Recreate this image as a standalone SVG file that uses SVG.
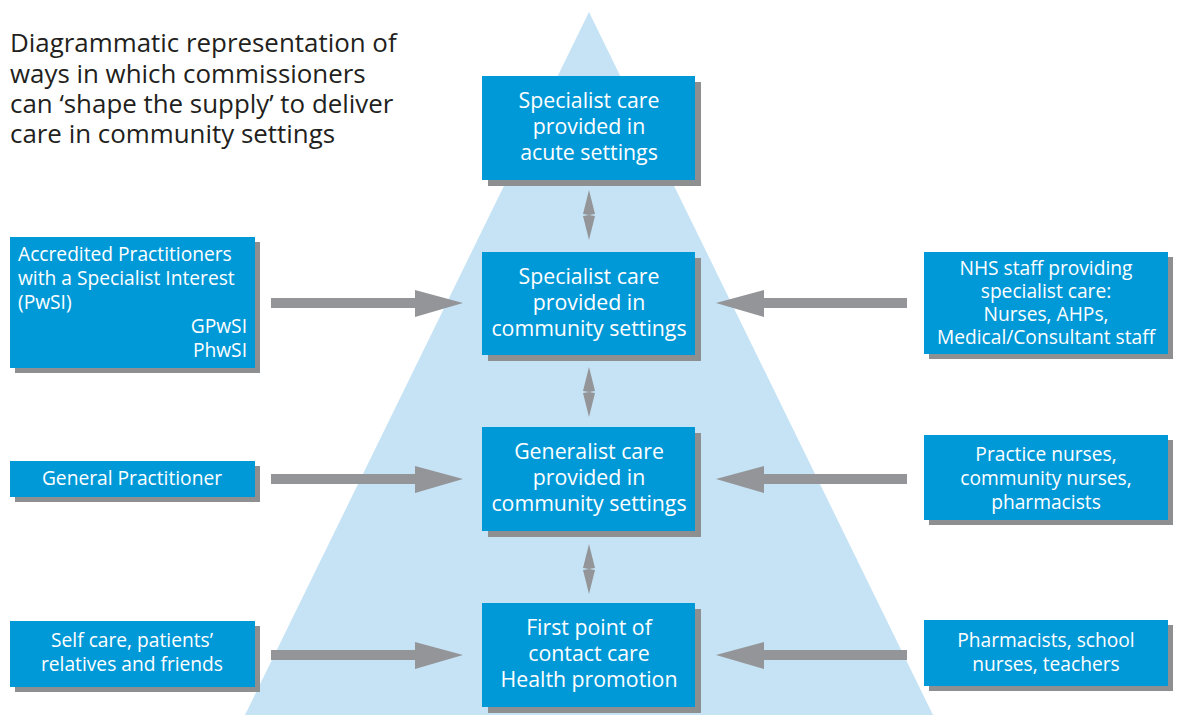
<svg xmlns="http://www.w3.org/2000/svg" width="1179" height="715" viewBox="0 0 1179 715">
<defs>
<style>
.box{fill:#0099d8}
.sh{fill:#8e8f91}
.t{font-family:"Open Sans","Noto Sans",sans-serif;fill:#fff;text-anchor:middle}
.c{font-size:21.3px}
.s{font-size:19.2px}
.title{font-family:"Open Sans","Noto Sans",sans-serif;font-size:25.9px;fill:#231f20}
.arr{fill:#939598}
</style>
</defs>
<rect width="1179" height="715" fill="#fff"/>
<polygon points="589,12 245,715 933,715" fill="#c5e3f5"/>
<g class="title">
<text x="10" y="52">Diagrammatic representation of</text>
<text x="10" y="83">ways in which commissioners</text>
<text x="10" y="113">can ‘shape the supply’ to deliver</text>
<text x="10" y="143">care in community settings</text>
</g>
<g id="connectors">
<polygon class="arr" points="271,298 415,298 415,290 463,303 415,317 415,308 271,308"/>
<polygon class="arr" points="271,474 415,474 415,466 463,479 415,493 415,484 271,484"/>
<polygon class="arr" points="271,650 415,650 415,642 463,655 415,669 415,660 271,660"/>
<polygon class="arr" points="907,298 764,298 764,290 716,303 764,317 764,308 907,308"/>
<polygon class="arr" points="907,474 764,474 764,466 716,479 764,493 764,484 907,484"/>
<polygon class="arr" points="907,650 764,650 764,642 716,655 764,669 764,660 907,660"/>
<polygon class="arr" points="589,190 595,214 589,215 595,216 589,240 583,216 589,215 583,214"/>
<polygon class="arr" points="589,367 595,391 589,392 595,393 589,417 583,393 589,392 583,391"/>
<polygon class="arr" points="589,544 595,568 589,569 595,570 589,594 583,570 589,569 583,568"/>
</g>
<g id="n-acute">
<rect class="sh" x="488" y="82" width="213" height="104"/>
<rect class="box" x="482" y="76" width="213" height="104"/>
<text class="t c" x="589" y="108">Specialist care</text>
<text class="t c" x="589" y="134">provided in</text>
<text class="t c" x="589" y="160">acute settings</text>
</g>
<g id="n-spec">
<rect class="sh" x="488" y="258" width="213" height="103"/>
<rect class="box" x="482" y="252" width="213" height="103"/>
<text class="t c" x="589" y="284">Specialist care</text>
<text class="t c" x="589" y="310">provided in</text>
<text class="t c" x="589" y="336">community settings</text>
</g>
<g id="n-gen">
<rect class="sh" x="488" y="433" width="213" height="104"/>
<rect class="box" x="482" y="427" width="213" height="104"/>
<text class="t c" x="589" y="459">Generalist care</text>
<text class="t c" x="589" y="485">provided in</text>
<text class="t c" x="589" y="511">community settings</text>
</g>
<g id="n-first">
<rect class="sh" x="488" y="609" width="213" height="104"/>
<rect class="box" x="482" y="603" width="213" height="104"/>
<text class="t c" x="589" y="635">First point of</text>
<text class="t c" x="589" y="661">contact care</text>
<text class="t c" x="589" y="687">Health promotion</text>
</g>
<g id="n-pwsi">
<rect class="sh" x="15" y="242" width="245" height="131"/>
<rect class="box" x="10" y="237" width="245" height="131"/>
<text class="t s" x="18" y="261" style="text-anchor:start">Accredited Practitioners</text>
<text class="t s" x="18" y="285" style="text-anchor:start">with a Specialist Interest</text>
<text class="t s" x="18" y="309" style="text-anchor:start">(PwSI)</text>
<text class="t s" x="247" y="333" style="text-anchor:end">GPwSI</text>
<text class="t s" x="247" y="357" style="text-anchor:end">PhwSI</text>
</g>
<g id="n-gp">
<rect class="sh" x="15" y="466" width="245" height="36"/>
<rect class="box" x="10" y="461" width="245" height="36"/>
<text class="t s" x="132" y="485">General Practitioner</text>
</g>
<g id="n-self">
<rect class="sh" x="15" y="626" width="245" height="66"/>
<rect class="box" x="10" y="621" width="245" height="66"/>
<text class="t s" x="132" y="647">Self care, patients’</text>
<text class="t s" x="132" y="671">relatives and friends</text>
</g>
<g id="n-nhs">
<rect class="sh" x="929" y="257" width="244" height="102"/>
<rect class="box" x="924" y="252" width="244" height="102"/>
<text class="t s" x="1046" y="275">NHS staff providing</text>
<text class="t s" x="1046" y="298">specialist care:</text>
<text class="t s" x="1046" y="321">Nurses, AHPs,</text>
<text class="t s" x="1046" y="344">Medical/Consultant staff</text>
</g>
<g id="n-nurses">
<rect class="sh" x="929" y="440" width="244" height="85"/>
<rect class="box" x="924" y="435" width="244" height="85"/>
<text class="t s" x="1046" y="461">Practice nurses,</text>
<text class="t s" x="1046" y="485">community nurses,</text>
<text class="t s" x="1046" y="509">pharmacists</text>
</g>
<g id="n-pharm">
<rect class="sh" x="929" y="625" width="244" height="66"/>
<rect class="box" x="924" y="620" width="244" height="66"/>
<text class="t s" x="1046" y="647">Pharmacists, school</text>
<text class="t s" x="1046" y="671">nurses, teachers</text>
</g>
</svg>
